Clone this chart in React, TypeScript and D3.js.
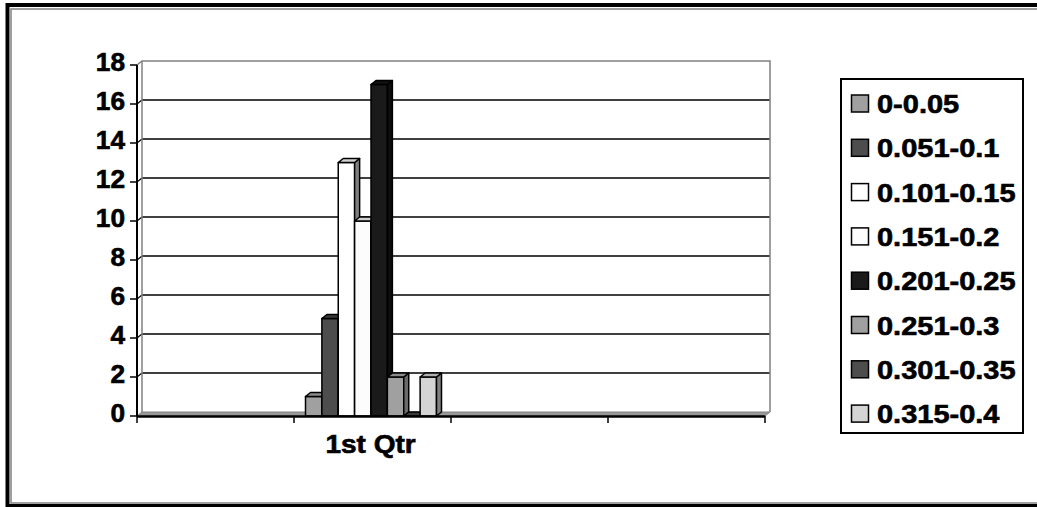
import React from 'react';
import * as d3 from 'd3';

// Chart data
const categories = ['', '1st Qtr', '', ''];
const dataCategory = '1st Qtr';
const seriesNames = [
  '0-0.05',
  '0.051-0.1',
  '0.101-0.15',
  '0.151-0.2',
  '0.201-0.25',
  '0.251-0.3',
  '0.301-0.35',
  '0.315-0.4',
];
const seriesValues = [1, 5, 13, 10, 17, 2, 0, 2];
const yTicks = [0, 2, 4, 6, 8, 10, 12, 14, 16, 18];

const frontColors = ['#a0a0a0', '#4d4d4d', '#ffffff', '#fcfcfc', '#1a1a1a', '#a0a0a0', '#4d4d4d', '#d4d4d4'];
const topColors = ['#8a8a8a', '#3a3a3a', '#d0d0d0', '#d0d0d0', '#111111', '#8a8a8a', '#3a3a3a', '#b0b0b0'];
const sideColors = ['#6a6a6a', '#2a2a2a', '#808080', '#808080', '#0d0d0d', '#6a6a6a', '#2a2a2a', '#808080'];

const W = 1037;
const H = 507;
const DX = 5;
const DY = -4;
const FONT = '"Liberation Sans", Arial, sans-serif';

const App: React.FC = () => {
  const x = d3.scaleBand<string>()
    .domain(categories.map((_, i) => String(i)))
    .range([137, 765])
    .paddingInner(0)
    .paddingOuter(0);
  const y = d3.scaleLinear().domain([0, 18]).range([416, 65]);

  const catIndex = categories.indexOf(dataCategory);
  const x0 = x(String(catIndex))!;
  const bw = x.bandwidth();
  const xs = d3.scaleBand<string>()
    .domain(seriesNames)
    .range([x0 + 11.5, x0 + bw - 14.5]);
  const w = xs.bandwidth();

  const wallL = 137 + DX;
  const wallR = 765 + DX;
  const y0 = y(0);

  const pts = (p: [number, number][]) => p.map((d) => d.join(',')).join(' ');
  const textStyle = {
    fontFamily: FONT,
    fontWeight: 'bold' as const,
    fontSize: 25,
    fill: '#000',
    stroke: '#000',
    strokeWidth: 0.6,
  };

  return (
    <svg width={W} height={H} style={{ position: 'absolute', left: 0, top: 0, background: '#fff' }}>
      {/* outer frame */}
      <rect x={7.5} y={5} width={1040} height={501} fill="#fff" stroke="#000" strokeWidth={4} />
      <rect x={11} y={9} width={1040} height={494} fill="none" stroke="#808080" strokeWidth={1.5} />

      {/* back wall */}
      <rect x={wallL} y={y(18) + DY} width={wallR - wallL} height={y0 - y(18)} fill="#fff" stroke="none" />
      {/* gridlines on back and side walls */}
      {yTicks.filter((t) => t > 0 && t < 18).map((t) => (
        <g key={t}>
          <line x1={wallL} x2={wallR} y1={y(t) + DY} y2={y(t) + DY} stroke="#000" strokeWidth={1.5} />
          <line x1={137} x2={wallL} y1={y(t)} y2={y(t) + DY} stroke="#000" strokeWidth={1.2} />
        </g>
      ))}
      {/* wall borders */}
      <polyline points={pts([[137, y(18)], [wallL, y(18) + DY], [wallR, y(18) + DY], [wallR, y0 + DY]])}
        fill="none" stroke="#808080" strokeWidth={1.5} />
      <line x1={wallL} x2={wallL} y1={y(18) + DY} y2={y0 + DY} stroke="#808080" strokeWidth={1.5} />

      {/* floor */}
      <polygon points={pts([[137, y0], [wallL, y0 + DY], [wallR, y0 + DY], [765, y0]])}
        fill="#999" stroke="#808080" strokeWidth={1} />

      {/* bars */}
      {seriesValues.map((v, i) => {
        const bx = xs(seriesNames[i])!;
        const by = y(v);
        return (
          <g key={seriesNames[i]} stroke="#000" strokeWidth={1.5} strokeLinejoin="round">
            {v > 0 && <rect x={bx} y={by} width={w} height={y0 - by} fill={frontColors[i]} />}
            <polygon points={pts([[bx + w, by], [bx + w + DX, by + DY], [bx + w + DX, y0 + DY], [bx + w, y0]])}
              fill={sideColors[i]} />
            <polygon points={pts([[bx, by], [bx + DX, by + DY], [bx + w + DX, by + DY], [bx + w, by]])}
              fill={topColors[i]} />
          </g>
        );
      })}

      {/* y axis */}
      <line x1={137} x2={137} y1={y(18)} y2={y0} stroke="#000" strokeWidth={2} />
      {yTicks.map((t) => (
        <g key={t}>
          <line x1={130} x2={137} y1={y(t)} y2={y(t)} stroke="#000" strokeWidth={1.5} />
          <text transform={`translate(125,${y(t) + 6}) scale(1.05,1)`} textAnchor="end" {...textStyle}>{t}</text>
        </g>
      ))}

      {/* x axis */}
      <line x1={137} x2={765} y1={y0 + 0.5} y2={y0 + 0.5} stroke="#000" strokeWidth={2.5} />
      {categories.map((_, i) => x(String(i))!).concat([765]).map((tx, i) => (
        <line key={i} x1={tx} x2={tx} y1={y0} y2={y0 + 7} stroke="#000" strokeWidth={1.5} />
      ))}
      {categories.map((c, i) => (
        <text key={i} transform={`translate(${x(String(i))! + bw / 2 - 2},453) scale(1.12,1)`} textAnchor="middle"
          {...textStyle}>{c}</text>
      ))}

      {/* legend */}
      <rect x={841} y={79} width={182} height={354} fill="#fff" stroke="#000" strokeWidth={2} />
      {seriesNames.map((s, i) => {
        const ly = 95 + i * 44.3;
        return (
          <g key={s}>
            <rect x={851.5} y={ly} width={17} height={17} fill={frontColors[i]} stroke="#000" strokeWidth={1.5} />
            <text transform={`translate(877,${ly + 18}) scale(1.16,1)`} {...textStyle}>{s}</text>
          </g>
        );
      })}
    </svg>
  );
};

export default App;
